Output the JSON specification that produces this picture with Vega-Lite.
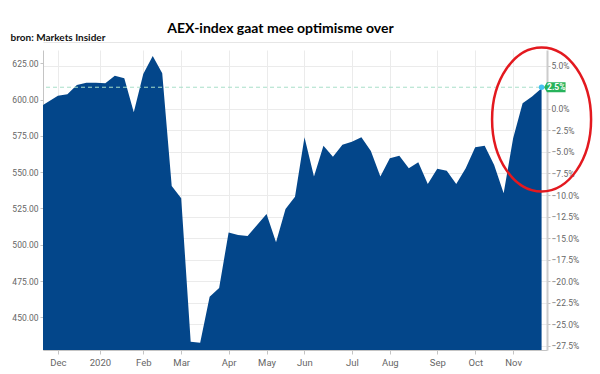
{
  "$schema": "https://vega.github.io/schema/vega-lite/v6.json",
  "width": 504,
  "height": 300,
  "autosize": "none",
  "padding": {"left": 43, "top": 50, "right": 53, "bottom": 24},
  "background": "white",
  "config": {
    "view": {"stroke": null},
    "axis": {"labelFont": "Roboto", "titleFont": "Lato"}
  },
  "resolve": {"scale": {"y": "independent"}, "axis": {"x": "independent"}},
  "layer": [
    {
      "data": {
        "values": [
          {"date": "2019-11-21", "price": 596.3},
          {"date": "2019-12-02", "price": 602.6},
          {"date": "2019-12-09", "price": 603.6},
          {"date": "2019-12-16", "price": 610.0},
          {"date": "2019-12-23", "price": 611.6},
          {"date": "2019-12-30", "price": 611.6},
          {"date": "2020-01-06", "price": 611.2},
          {"date": "2020-01-13", "price": 616.3},
          {"date": "2020-01-20", "price": 614.7},
          {"date": "2020-01-27", "price": 591.2},
          {"date": "2020-02-03", "price": 617.6},
          {"date": "2020-02-10", "price": 630.0},
          {"date": "2020-02-17", "price": 618.1},
          {"date": "2020-02-24", "price": 540.4},
          {"date": "2020-03-02", "price": 532.0},
          {"date": "2020-03-09", "price": 433.2},
          {"date": "2020-03-16", "price": 432.5},
          {"date": "2020-03-23", "price": 464.1},
          {"date": "2020-03-30", "price": 470.2},
          {"date": "2020-04-06", "price": 508.5},
          {"date": "2020-04-13", "price": 506.7},
          {"date": "2020-04-20", "price": 506.0},
          {"date": "2020-04-27", "price": 513.6},
          {"date": "2020-05-04", "price": 521.1},
          {"date": "2020-05-11", "price": 501.7},
          {"date": "2020-05-18", "price": 524.6},
          {"date": "2020-05-25", "price": 533.1},
          {"date": "2020-06-01", "price": 574.0},
          {"date": "2020-06-08", "price": 546.9},
          {"date": "2020-06-15", "price": 568.2},
          {"date": "2020-06-22", "price": 560.6},
          {"date": "2020-06-29", "price": 568.9},
          {"date": "2020-07-06", "price": 571.0},
          {"date": "2020-07-13", "price": 574.0},
          {"date": "2020-07-20", "price": 564.6},
          {"date": "2020-07-27", "price": 546.9},
          {"date": "2020-08-03", "price": 559.6},
          {"date": "2020-08-10", "price": 561.2},
          {"date": "2020-08-17", "price": 552.6},
          {"date": "2020-08-24", "price": 556.8},
          {"date": "2020-08-31", "price": 541.8},
          {"date": "2020-09-07", "price": 552.4},
          {"date": "2020-09-14", "price": 551.0},
          {"date": "2020-09-21", "price": 541.8},
          {"date": "2020-09-28", "price": 552.6},
          {"date": "2020-10-05", "price": 567.1},
          {"date": "2020-10-12", "price": 568.2},
          {"date": "2020-10-19", "price": 554.9},
          {"date": "2020-10-26", "price": 535.4},
          {"date": "2020-11-02", "price": 573.3},
          {"date": "2020-11-09", "price": 597.5},
          {"date": "2020-11-16", "price": 602.0},
          {"date": "2020-11-23", "price": 607.8}
        ]
      },
      "mark": {"type": "area", "color": "#03468a", "opacity": 1, "clip": true},
      "encoding": {
        "x": {
          "field": "date",
          "type": "temporal",
          "scale": {"domain": [{"year": 2019, "month": 11, "date": 21}, {"year": 2020, "month": 11, "date": 27}], "nice": false},
          "axis": {
            "title": null,
            "values": [
              {"year": 2019, "month": 12, "date": 2},
              {"year": 2020, "month": 1, "date": 2},
              {"year": 2020, "month": 2, "date": 3},
              {"year": 2020, "month": 3, "date": 2},
              {"year": 2020, "month": 4, "date": 6},
              {"year": 2020, "month": 5, "date": 4},
              {"year": 2020, "month": 6, "date": 1},
              {"year": 2020, "month": 7, "date": 6},
              {"year": 2020, "month": 8, "date": 3},
              {"year": 2020, "month": 9, "date": 7},
              {"year": 2020, "month": 10, "date": 5},
              {"year": 2020, "month": 11, "date": 2}
            ],
            "labelExpr": "month(datum.value) == 0 ? '2020' : timeFormat(datum.value, '%b')",
            "grid": true,
            "gridColor": "#ebebeb",
            "domainColor": "#c4c4c4",
            "tickColor": "#c4c4c4",
            "tickSize": 4,
            "labelFontSize": 9.5,
            "labelColor": "#666",
            "labelPadding": 3
          }
        },
        "y": {
          "field": "price",
          "type": "quantitative",
          "scale": {"domain": [427.5, 634.1], "nice": false, "zero": false},
          "axis": {
            "values": [450, 475, 500, 525, 550, 575, 600, 625],
            "format": ".2f",
            "grid": false,
            "domainColor": "#c4c4c4",
            "tickColor": "#c4c4c4",
            "tickSize": 3,
            "labelPadding": 2,
            "labelFontSize": 8.5,
            "labelColor": "#666",
            "title": "bron: Markets Insider",
            "titleAngle": 0,
            "titleX": -33,
            "titleY": -10,
            "titleAlign": "left",
            "titleBaseline": "alphabetic",
            "titleFontSize": 10,
            "titleFontWeight": "bold",
            "titleColor": "#111"
          }
        }
      }
    },
    {
      "encoding": {
        "y": {
          "field": "pct",
          "type": "quantitative",
          "scale": {"domain": [-0.2798, 0.0682], "nice": false, "zero": false},
          "axis": {
            "orient": "right",
            "values": [0.05, 0, -0.025, -0.05, -0.075, -0.1, -0.125, -0.15, -0.175, -0.2, -0.225, -0.25, -0.275],
            "format": ".1%",
            "grid": true,
            "gridColor": "#ebebeb",
            "domainColor": "#cccccc",
            "domainWidth": 2,
            "tickColor": "#c4c4c4",
            "tickSize": 3,
            "labelPadding": 1,
            "labelFontSize": 8.5,
            "labelColor": "#666",
            "title": null
          }
        }
      },
      "layer": [
        {
          "data": {"values": [{"pct": 0.025}]},
          "mark": {"type": "rule", "color": "#a9dfc9", "strokeDash": [4, 3], "strokeWidth": 1},
          "encoding": {}
        },
        {
          "data": {"values": [{"date": "2020-11-23", "pct": 0.025, "label": "2.5%"}]},
          "mark": {"type": "point", "shape": "M0.2,0L0.45,-0.42L2,-0.42L2,0.42L0.45,0.42Z", "size": 576, "filled": true, "color": "#27b35b", "opacity": 1},
          "encoding": {
            "x": {"field": "date", "type": "temporal", "scale": {"domain": [{"year": 2019, "month": 11, "date": 21}, {"year": 2020, "month": 11, "date": 27}], "nice": false}, "axis": null}
          }
        },
        {
          "data": {"values": [{"date": "2020-11-23", "pct": 0.025, "label": "2.5%"}]},
          "mark": {"type": "text", "dx": 14.7, "align": "center", "baseline": "middle", "color": "white", "fontSize": 8.5, "fontWeight": "bold", "font": "Roboto"},
          "encoding": {
            "x": {"field": "date", "type": "temporal", "axis": null},
            "text": {"field": "label", "type": "nominal"}
          }
        },
        {
          "data": {"values": [{"date": "2020-11-23", "pct": 0.025}]},
          "mark": {"type": "point", "shape": "circle", "size": 30, "filled": true, "color": "#45c1f2", "opacity": 1},
          "encoding": {
            "x": {"field": "date", "type": "temporal", "axis": null}
          }
        },
        {
          "data": {"values": [{"date": "2020-11-23", "pct": -0.0124}]},
          "mark": {"type": "point", "shape": "M-0.6875,0A0.6875,1 0 1,0 0.6875,0A0.6875,1 0 1,0 -0.6875,0Z", "size": 20736, "filled": false, "color": "#e3191f", "strokeWidth": 2.5, "opacity": 1},
          "encoding": {
            "x": {"field": "date", "type": "temporal", "axis": null}
          }
        }
      ]
    },
    {
      "data": {"values": [{"date": "2020-06-01"}]},
      "mark": {"type": "point", "opacity": 0},
      "encoding": {
        "x": {
          "field": "date",
          "type": "temporal",
          "axis": {
            "orient": "top",
            "offset": 8,
            "domainColor": "#e6e6e6",
            "labels": false,
            "ticks": false,
            "grid": false,
            "title": "AEX-index gaat mee optimisme over",
            "titleFont": "Lato",
            "titleFontSize": 14,
            "titleFontWeight": "bold",
            "titleColor": "#000",
            "titleX": 237,
            "titleY": -10,
            "titleAlign": "center",
            "titleBaseline": "alphabetic"
          }
        }
      }
    }
  ]
}
